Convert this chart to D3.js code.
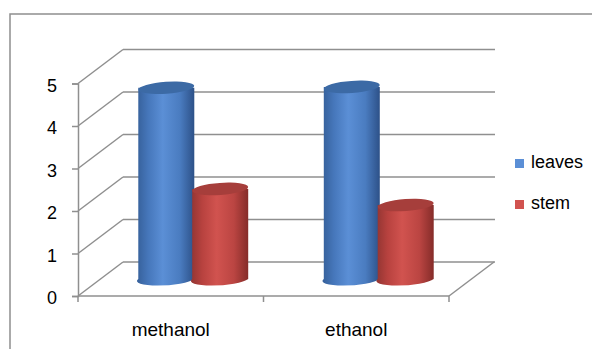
<!DOCTYPE html>
<html><head><meta charset="utf-8">
<script src="https://cdn.jsdelivr.net/npm/d3@7"></script>
<style>html,body{margin:0;padding:0;background:#fff;}svg{display:block;}</style>
</head><body>
<script>
const categories = ["methanol", "ethanol"];
const seriesNames = ["leaves", "stem"];
const leaves = [4.5, 4.52];
const stem = [2.12, 1.74];
const yTicks = [0, 1, 2, 3, 4, 5];

const W = 592, H = 349;
const svg = d3.select("body").append("svg").attr("width", W).attr("height", H);
const font = "'Liberation Sans', Arial, sans-serif";
const grid = "#8f8f8f";

// outer frame
svg.append("rect").attr("x", 10).attr("y", 14).attr("width", 700).attr("height", 500)
  .attr("fill", "none").attr("stroke", grid).attr("stroke-width", 1.5);

const front = {x0: 78, x1: 449, y0: 296};
const depth = {dx: 45, dy: -34};
const y = d3.scaleLinear().domain([0, 5]).range([296, 83.5]);
const x = d3.scaleBand().domain(categories).range([front.x0, front.x1]);
const inner = d3.scaleBand().domain(seriesNames).range([-55, 55]).paddingInner(-0.04);

const g = svg.append("g");
// back wall gridlines + side wall diagonals
yTicks.forEach(t => {
  g.append("line").attr("x1", front.x0 + depth.dx).attr("x2", 495)
    .attr("y1", y(t) + depth.dy).attr("y2", y(t) + depth.dy)
    .attr("stroke", grid).attr("stroke-width", 1.5);
  g.append("line").attr("x1", front.x0).attr("x2", front.x0 + depth.dx)
    .attr("y1", y(t)).attr("y2", y(t) + depth.dy)
    .attr("stroke", grid).attr("stroke-width", 1.5);
});
// floor
g.append("line").attr("x1", front.x0).attr("x2", front.x1).attr("y1", front.y0).attr("y2", front.y0)
  .attr("stroke", grid).attr("stroke-width", 1.5);
g.append("line").attr("x1", front.x1).attr("x2", front.x1 + depth.dx).attr("y1", front.y0).attr("y2", front.y0 + depth.dy)
  .attr("stroke", grid).attr("stroke-width", 1.5);
// x boundary ticks
[front.x0, x("ethanol"), front.x1].forEach(px => {
  g.append("line").attr("x1", px).attr("x2", px).attr("y1", front.y0).attr("y2", front.y0 + 6)
    .attr("stroke", grid).attr("stroke-width", 1.5);
});

// y axis
const yAxis = svg.append("g").attr("transform", `translate(${front.x0},0)`)
  .call(d3.axisLeft(y).tickValues(yTicks).tickSize(6).tickPadding(15).tickFormat(d3.format("d")));
yAxis.select(".domain").attr("stroke", grid).attr("stroke-width", 1.5);
yAxis.selectAll(".tick line").attr("stroke", grid).attr("stroke-width", 1.5);
yAxis.selectAll("text").attr("font-family", font).attr("font-size", 18).attr("fill", "#000").attr("dy", "0.42em");

// x axis labels
const xAxis = svg.append("g").attr("transform", `translate(0,${front.y0})`)
  .call(d3.axisBottom(x).tickSize(0).tickPadding(27));
xAxis.select(".domain").remove();
xAxis.selectAll("text").attr("font-family", font).attr("font-size", 19).attr("fill", "#000");

// gradients
const defs = svg.append("defs");
const palettes = {
  leaves: {stops: ["#36609a", "#4677bb", "#5b8fd6", "#4a7cc0", "#2d5188"], top: "#3c6aa5"},
  stem: {stops: ["#923532", "#b8423f", "#d1534f", "#bb4542", "#852c29"], top: "#a63e3b"}
};
Object.entries(palettes).forEach(([k, p]) => {
  const lg = defs.append("linearGradient").attr("id", "g-" + k).attr("x1", 0).attr("x2", 1).attr("y1", 0).attr("y2", 0);
  [0, 0.2, 0.45, 0.75, 1].forEach((o, i) => lg.append("stop").attr("offset", o).attr("stop-color", p.stops[i]));
});

const seriesVals = {leaves, stem};
const rx = 28, ry = 6, rot = -4;
const bars = svg.append("g");
seriesNames.forEach(s => {
  categories.forEach((c, i) => {
    const v = seriesVals[s][i];
    const cx = x(c) + x.bandwidth() / 2 + depth.dx / 2 + inner(s) + inner.bandwidth() / 2;
    const by = y(0) + depth.dy / 2;
    const ty = y(v) + depth.dy / 2;
    const bg = bars.append("g");
    bg.append("path")
      .attr("d", `M${cx - rx},${ty} L${cx - rx},${by} A${rx},${ry} ${rot} 0 0 ${cx + rx},${by} L${cx + rx},${ty} Z`)
      .attr("fill", `url(#g-${s})`);
    bg.append("ellipse").attr("cx", cx).attr("cy", ty).attr("rx", rx).attr("ry", ry)
      .attr("transform", `rotate(${rot},${cx},${ty})`)
      .attr("fill", palettes[s].top);
  });
});

// legend
const legend = svg.append("g");
seriesNames.forEach((s, i) => {
  const ly = 168 + i * 41;
  legend.append("rect").attr("x", 515).attr("y", ly - 9).attr("width", 9).attr("height", 9)
    .attr("fill", palettes[s].stops[2]);
  legend.append("text").attr("x", 531).attr("y", ly).text(s)
    .attr("font-family", font).attr("font-size", 18).attr("fill", "#000");
});
</script>
</body></html>
